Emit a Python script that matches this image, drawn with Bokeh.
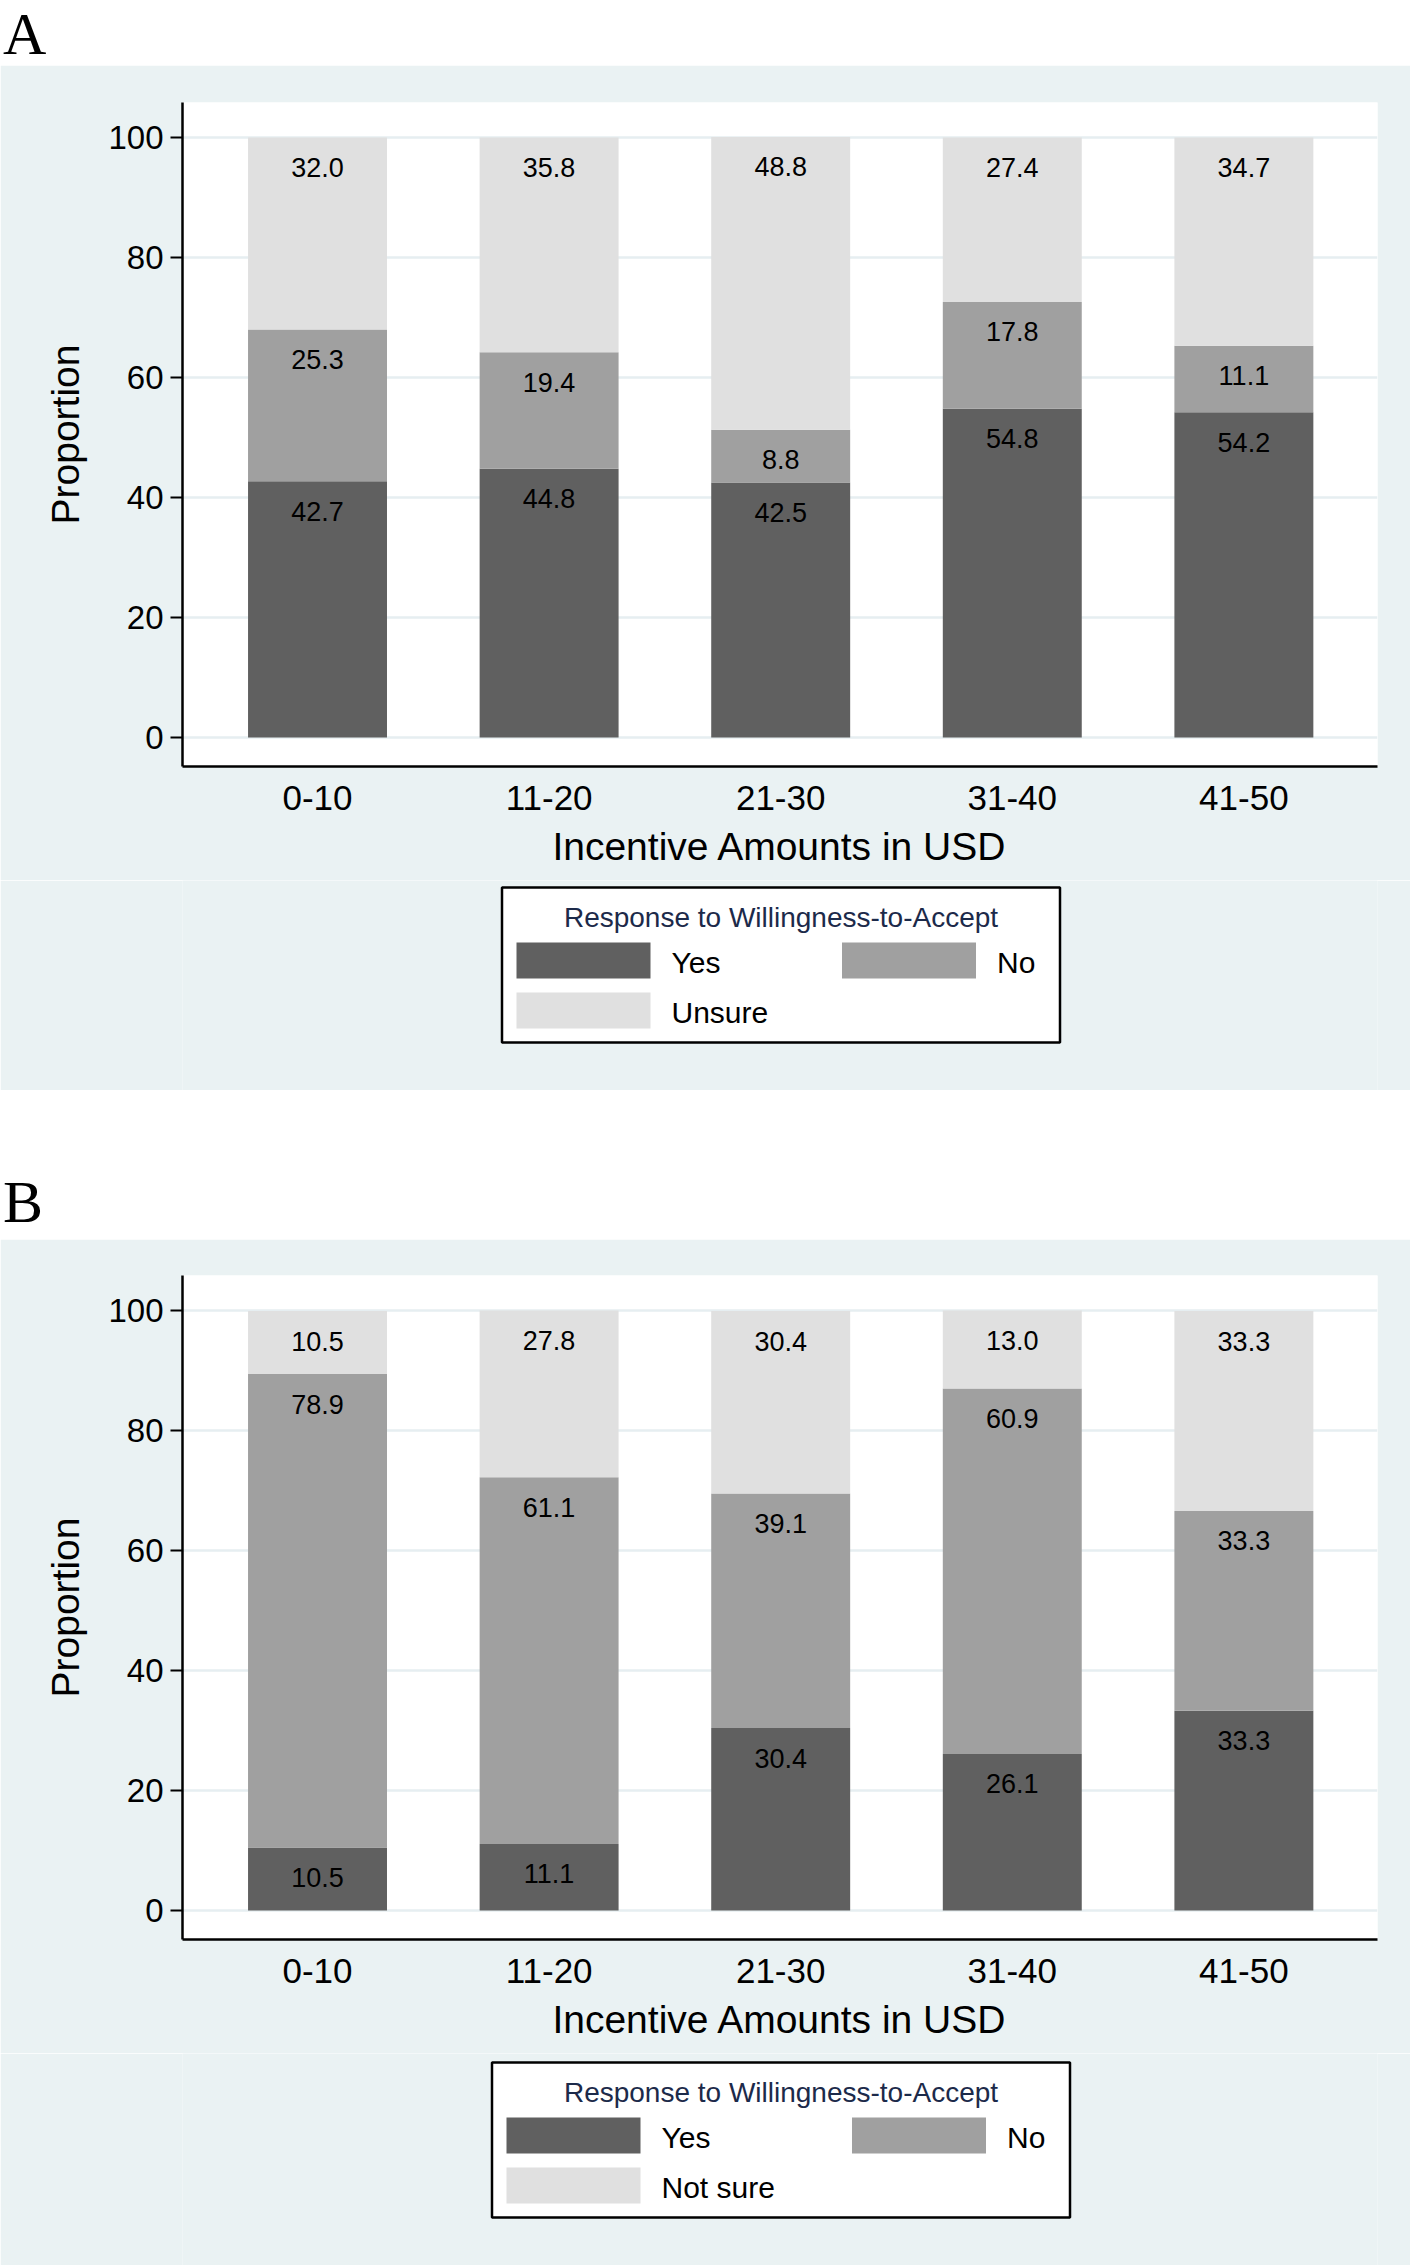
from bokeh.plotting import figure
from bokeh.models import ColumnDataSource, Range1d, FixedTicker, Div
from bokeh.layouts import column
from bokeh.embed import file_html
from bokeh.resources import INLINE
from bokeh.core.properties import value

# ---------------- data ----------------
categories = ["0-10", "11-20", "21-30", "31-40", "41-50"]
y_ticks = [0, 20, 40, 60, 80, 100]

a_yes = [42.7, 44.8, 42.5, 54.8, 54.2]
a_no = [25.3, 19.4, 8.8, 17.8, 11.1]
a_unsure = [32.0, 35.8, 48.8, 27.4, 34.7]
a_labels = ["Yes", "No", "Unsure"]

b_yes = [10.5, 11.1, 30.4, 26.1, 33.3]
b_no = [78.9, 61.1, 39.1, 60.9, 33.3]
b_unsure = [10.5, 27.8, 30.4, 13.0, 33.3]
b_labels = ["Yes", "No", "Not sure"]

legend_title = "Response to Willingness-to-Accept"
x_title = "Incentive Amounts in USD"
y_title = "Proportion"

# ---------------- style ----------------
BG = "#EAF2F3"
GRID = "#E6EEF1"
COLORS = ["#606060", "#A0A0A0", "#E0E0E0"]
TITLE_COLOR = "#1C2A4A"
FONT = "Liberation Sans"
W = 1410
LEFT = 182
FRAME_W = 1195
FRAME_H = 664


def letter_div(letter, h, pad_top):
    html = (f'<div style="font-family:\'Liberation Serif\',serif;font-size:60px;'
            f'line-height:normal;color:black;padding-top:{pad_top}px;'
            f'padding-left:3px;">{letter}</div>')
    return Div(text=html, width=W, height=h, margin=(0, 0, 0, 0),
               styles={"background-color": "white"})


def panel(yes, no, unsure, h, top, bottom):
    xs = list(range(len(categories)))
    src = ColumnDataSource(dict(x=xs, yes=yes, no=no, unsure=unsure))
    p = figure(width=W, height=h, output_backend="svg", toolbar_location=None,
               x_range=Range1d(-0.583, 4.577), y_range=Range1d(-4.83, 105.83),
               min_border_left=LEFT, min_border_right=W - LEFT - FRAME_W,
               min_border_top=top, min_border_bottom=bottom)
    p.background_fill_color = "white"
    p.border_fill_color = BG
    p.outline_line_color = None

    p.vbar_stack(["yes", "no", "unsure"], x="x", width=0.6, color=COLORS,
                 line_color=None, source=src)

    # value labels near the top of each segment
    tops_y = [a for a in yes]
    tops_n = [a + b for a, b in zip(yes, no)]
    tops_u = [a + b + c for a, b, c in zip(yes, no, unsure)]
    lab_src = ColumnDataSource(dict(
        x=xs * 3,
        y=tops_y + tops_n + tops_u,
        t=[f"{v:.1f}" for v in yes + no + unsure]))
    p.text(x="x", y="y", text="t", source=lab_src, text_align="center",
           text_baseline="middle", y_offset=30, text_font_size="27px",
           text_font=value(FONT), text_color="black")

    # axes
    p.xaxis.ticker = FixedTicker(ticks=xs)
    p.xaxis.major_label_overrides = {i: c for i, c in enumerate(categories)}
    p.xaxis.major_tick_out = 0
    p.xaxis.major_tick_in = 0
    p.xaxis.minor_tick_line_color = None
    p.xaxis.major_label_standoff = 19
    p.xaxis.major_label_text_font_size = "35px"
    p.xaxis.major_label_text_font = FONT
    p.xaxis.major_label_text_color = "black"
    p.xaxis.axis_label = x_title
    p.xaxis.axis_label_text_font_size = "39px"
    p.xaxis.axis_label_text_font_style = "normal"
    p.xaxis.axis_label_text_font = FONT
    p.xaxis.axis_label_text_color = "black"
    p.xaxis.axis_label_standoff = 12
    p.xaxis.axis_line_width = 2.5
    p.xaxis.axis_line_color = "black"

    p.yaxis.ticker = FixedTicker(ticks=y_ticks)
    p.yaxis.major_tick_out = 12
    p.yaxis.major_tick_in = 0
    p.yaxis.major_tick_line_width = 2
    p.yaxis.major_tick_line_color = "black"
    p.yaxis.minor_tick_line_color = None
    p.yaxis.major_label_standoff = 7
    p.yaxis.major_label_text_font_size = "33px"
    p.yaxis.major_label_text_font = FONT
    p.yaxis.major_label_text_color = "black"
    p.yaxis.axis_label = y_title
    p.yaxis.axis_label_text_font_size = "39px"
    p.yaxis.axis_label_text_font_style = "normal"
    p.yaxis.axis_label_text_font = FONT
    p.yaxis.axis_label_text_color = "black"
    p.yaxis.axis_label_standoff = 18
    p.yaxis.axis_line_width = 2.5
    p.yaxis.axis_line_color = "black"

    p.xgrid.grid_line_color = None
    p.ygrid.ticker = FixedTicker(ticks=y_ticks)
    p.ygrid.grid_line_color = GRID
    p.ygrid.grid_line_width = 2.5
    p.ygrid.level = "underlay"
    return p


def legend_fig(labels, h, box_top, box_w, col2_dx):
    f = figure(width=W, height=h, output_backend="svg", toolbar_location=None,
               x_range=Range1d(0, FRAME_W), y_range=Range1d(h, 0),
               x_axis_type=None, y_axis_type=None,
               min_border_left=LEFT, min_border_right=W - LEFT - FRAME_W,
               min_border_top=0, min_border_bottom=0)
    f.outline_line_color = None
    f.background_fill_color = BG
    f.border_fill_color = BG
    f.grid.visible = False

    cx = FRAME_W / 2 + 1
    bx = cx - box_w / 2
    by = box_top
    box_h = 155
    f.quad(left=[bx], right=[bx + box_w], top=[by], bottom=[by + box_h],
           fill_color="white", line_color="black", line_width=2.5)

    f.text(x=[cx], y=[by + 30.3], text=[legend_title], text_align="center",
           text_baseline="middle", text_font=value(FONT),
           text_font_size="28px", text_color=TITLE_COLOR)

    sw_w, sw_h = 134, 36
    col_x = [bx + 14.5, bx + col2_dx, bx + 14.5]
    row_y = [by + 55, by + 55, by + 105]
    f.quad(left=col_x, right=[x + sw_w for x in col_x],
           top=row_y, bottom=[y + sw_h for y in row_y],
           fill_color=COLORS, line_color=None)
    f.text(x=[x + sw_w + 21 for x in col_x], y=[y + 19.5 for y in row_y],
           text=labels, text_align="left", text_baseline="middle",
           text_font=value(FONT), text_font_size="30px", text_color="black")
    return f


lettA = letter_div("A", 65, 0)
figA = panel(a_yes, a_no, a_unsure, 815, 37, 114)
legA = legend_fig(a_labels, 210, 7, 558, 340)
lettB = letter_div("B", 149, 78)
figB = panel(b_yes, b_no, b_unsure, 814, 36, 114)
legB = legend_fig(b_labels, 212, 9, 578, 360)

layout = column(lettA, figA, legA, lettB, figB, legB, spacing=0)

html = file_html(layout, INLINE, "Willingness-to-Accept")
with open("out.html", "w") as fh:
    fh.write(html)
